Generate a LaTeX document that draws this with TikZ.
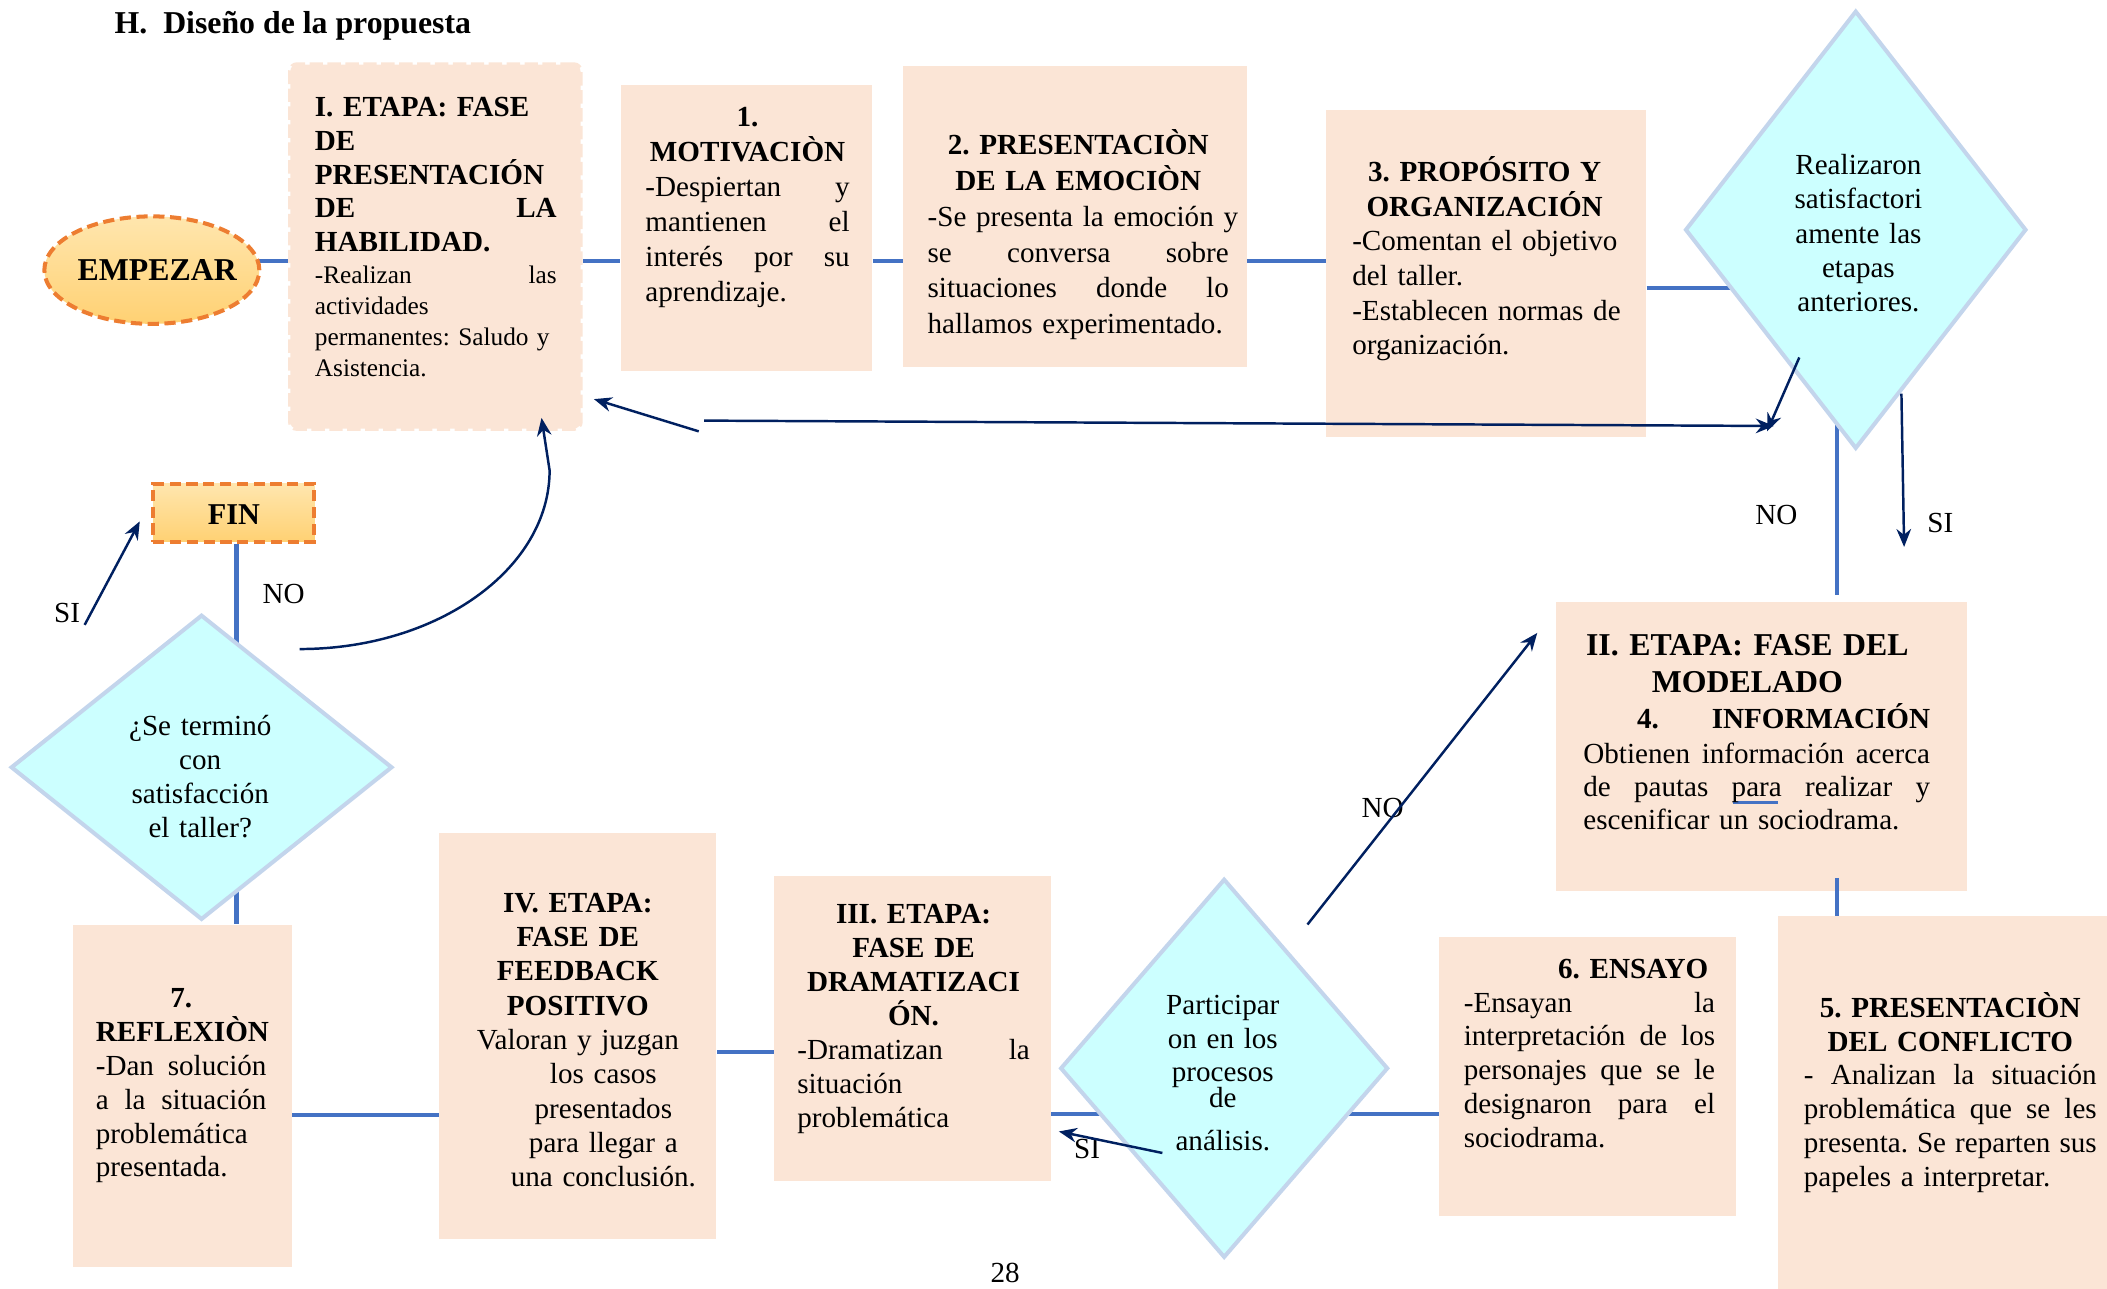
\documentclass[tikz,border=0pt]{standalone}
\usepackage{fontspec}
\setmainfont{Liberation Serif}
\usetikzlibrary{shapes.geometric,arrows.meta,fit,backgrounds,calc}
\definecolor{peach}{HTML}{FBE5D6}
\definecolor{dfill}{HTML}{CCFFFF}
\definecolor{dline}{HTML}{C3D5EC}
\definecolor{cblue}{HTML}{4472C4}
\definecolor{navy}{HTML}{002060}
\definecolor{orline}{HTML}{ED7D31}
\definecolor{ortop}{HTML}{FFE6AE}
\definecolor{orbot}{HTML}{FFD173}
\hyphenpenalty=10000
\exhyphenpenalty=10000
\tikzset{
  box/.style={fill=peach, draw=none, inner sep=0pt},
  dia/.style={diamond, fill=dfill, draw=dline, line width=1.8pt, inner sep=0pt},
  conn/.style={draw=cblue, line width=1.8pt},
  arr/.style={draw=navy, line width=1.1pt, -{Stealth[length=8pt,width=6.5pt]}},
  txt/.style={inner sep=0pt, anchor=base west, align=left},
  ctxt/.style={inner sep=0pt, anchor=base, align=center},
  lbl/.style={inner sep=0pt, font=\fontsize{13}{15}\selectfont},
  term/.style={draw=orline, dash pattern=on 5pt off 2.5pt, line width=1.8pt, top color=ortop, bottom color=orbot, inner sep=0pt},
}
\begin{document}
\begin{tikzpicture}[x=0.6pt,y=-0.6pt]
\useasboundingbox (0,0) rectangle (1568,959);
% helper coordinates
\coordinate (y194) at (0,194);
\coordinate (y214) at (0,214);
\coordinate (y783) at (0,783);
\coordinate (y829) at (0,829);
\coordinate (y830) at (0,830);
\coordinate (x1367) at (1367,0);
\coordinate (x176) at (176,0);

% title
\node[inner sep=0pt, anchor=base west, font=\fontsize{14.2}{16}\selectfont\bfseries] (title) at (85,25) {H.\hspace{0.5em}Diseño de la propuesta};

% terminals
\node[ellipse, term, minimum width=96pt, minimum height=48pt] (emp) at (113,201) {};
\node[inner sep=0pt, font=\fontsize{14.2}{16}\selectfont\bfseries] (empt) at (117,201) {EMPEZAR};
\node[term, fit={(114,360) (234,403)}] (fin) {};
\node[inner sep=0pt, font=\fontsize{13.5}{16}\selectfont\bfseries] (fint) at (174,383) {FIN};

% boxes
\node[box, draw=peach, dash pattern=on 6pt off 2pt, line width=2pt, rounded corners=3pt, fit={(216,48) (432,319)}] (b0) {};
\node[box, fit={(462,63) (649,276)}] (b1) {};
\node[box, fit={(672,49) (928,273)}] (b2) {};
\node[box, fit={(987,82) (1225,325)}] (b3) {};
\node[box, fit={(1158,448) (1464,663)}] (b4) {};
\node[box, fit={(1323,682) (1568,959)}] (b5) {};
\node[box, fit={(1071,697) (1292,905)}] (b6) {};
\node[box, fit={(576,652) (782,879)}] (b7) {};
\node[box, fit={(327,620) (533,922)}] (b8) {};
\node[box, fit={(54,688) (217,943)}] (b9) {};

% diamonds
\node[dia, minimum width=152.4pt, minimum height=195.6pt] (d1) at (1381,171) {};
\node[dia, minimum width=146.4pt, minimum height=169.2pt] (d2) at (911,795) {};
\node[dia, minimum width=170.4pt, minimum height=136.2pt] (d3) at (150,571) {};

% connectors (behind shapes)
\begin{pgfonlayer}{background}
\draw[conn] (emp.center |- y194) -- (b0.west |- y194);
\draw[conn] (b0.east |- y194) -- (b1.west |- y194);
\draw[conn] (b1.east |- y194) -- (b2.west |- y194);
\draw[conn] (b2.east |- y194) -- (b3.west |- y194);
\draw[conn] (b3.east |- y214) -- (d1.center |- y214);
\draw[conn] (d1.center -| x1367) -- ($(b4.north -| x1367)+(0,-5)$);
\draw[conn] (b6.west |- y829) -- (b7.east |- y829);
\draw[conn] (b7.west |- y783) -- (b8.east |- y783);
\draw[conn] (b8.west |- y830) -- (b9.east |- y830);
\draw[conn] (fin.south -| x176) -- (b9.north -| x176);
\end{pgfonlayer}
\draw[conn] ($(b4.south -| x1367)+(0,-10)$) -- (b5.north -| x1367);
\draw[cblue, line width=1.2pt] (1290,597) -- (1323,597);

% texts
\node[txt, text width=108pt, font=\fontsize{13}{15}\selectfont\bfseries] (t0a) at (234,87)
 {I. ETAPA: FASE\\ DE\\ PRESENTACIÓN\\ DE\hfill LA\\ HABILIDAD.};
\node[txt, text width=108pt, font=\fontsize{11.3}{13.8}\selectfont] (t0b) at (234,211)
 {-Realizan\hfill las\\ actividades\\ permanentes:~Saludo~y\\ Asistencia.};
\node[txt, text width=91.2pt, font=\fontsize{13}{15.6}\selectfont] (t1) at (480,94)
 {\hfill\textbf{1.}\hfill\null\\ \hfill\textbf{MOTIVACIÒN}\hfill\null\\ -Despiertan\hfill y\\ mantienen\hfill el\\ interés\hfill por\hfill su\\ aprendizaje.};
\node[txt, text width=134.5pt, font=\fontsize{13}{16}\selectfont] (t2) at (690,115)
 {\hfill\textbf{2.~PRESENTACIÒN}\hfill\null\\ \hfill\textbf{DE~LA~EMOCIÒN}\hfill\null\\ -Se~presenta~la~emoción~y\\ se\hfill conversa\hfill sobre\\ situaciones\hfill donde\hfill lo\\ hallamos~experimentado.};
\node[txt, text width=118.2pt, font=\fontsize{13}{15.5}\selectfont] (t3) at (1006,135)
 {\hfill\textbf{3.~PROPÓSITO~Y}\hfill\null\\ \hfill\textbf{ORGANIZACIÓN}\hfill\null\\ -Comentan~el~objetivo\\ del~taller.\\ -Establecen~normas~de\\ organización.};
\node[txt, text width=153.6pt, font=\fontsize{14.2}{16.2}\selectfont\bfseries] (t4a) at (1180,488)
 {II.~ETAPA:~FASE~DEL\\ \leavevmode\hspace*{29.4pt}MODELADO\\ \leavevmode\hspace*{22.8pt}{\fontsize{13}{16.2}\selectfont 4.\hfill INFORMACIÓN}};
\node[txt, text width=154.8pt, font=\fontsize{13}{14.7}\selectfont] (t4b) at (1178,568)
 {Obtienen\hfill información\hfill acerca\\ de\hfill pautas\hfill para\hfill realizar\hfill y\\ escenificar~un~sociodrama.};
\node[txt, text width=130.8pt, font=\fontsize{13}{15.1}\selectfont] (t5) at (1342,757)
 {\hfill\textbf{5.~PRESENTACIÒN}\hfill\null\\ \hfill\textbf{DEL~CONFLICTO}\hfill\null\\ -\hfill Analizan\hfill la\hfill situación\\ problemática\hfill que\hfill se\hfill les\\ presenta.\hfill Se\hfill reparten\hfill sus\\ papeles~a~interpretar.};
\node[txt, text width=112.2pt, font=\fontsize{13}{15.1}\selectfont] (t6) at (1089,728)
 {\hfill\textbf{6.~ENSAYO}\kern3pt\null\\ -Ensayan\hfill la\\ interpretación\hfill de\hfill los\\ personajes\hfill que\hfill se\hfill le\\ designaron\hfill para\hfill el\\ sociodrama.};
\node[txt, text width=103.8pt, font=\fontsize{13}{15.2}\selectfont] (t7) at (593,687)
 {\hfill\textbf{III.~ETAPA:}\hfill\null\\ \hfill\textbf{FASE~DE}\hfill\null\\ \hfill\textbf{DRAMATIZACI}\hfill\null\\ \hfill\textbf{ÓN.}\hfill\null\\ -Dramatizan\hfill la\\ situación\\ problemática};
\node[ctxt, text width=120pt, font=\fontsize{13}{15.3}\selectfont] (t8) at (430,679)
 {\textbf{IV. ETAPA:}\\ \textbf{FASE DE}\\ \textbf{FEEDBACK}\\ \textbf{POSITIVO}\\ Valoran y juzgan\\ \leavevmode\hspace*{22.8pt}los casos\\ \leavevmode\hspace*{22.8pt}presentados\\ \leavevmode\hspace*{22.8pt}para llegar a\\ \leavevmode\hspace*{22.8pt}una conclusión.};
\node[txt, text width=76.2pt, font=\fontsize{13}{15.1}\selectfont] (t9) at (71,750)
 {\hfill\textbf{7.}\hfill\null\\ \textbf{REFLEXIÒN}\\ -Dan\hfill solución\\ a\hfill la\hfill situación\\ problemática\\ presentada.};
\node[ctxt, text width=72pt, font=\fontsize{13}{15.3}\selectfont] (td1) at (1383,130)
 {Realizaron\\ satisfactori\\ amente las\\ etapas\\ anteriores.};
\node[ctxt, text width=72pt, font=\fontsize{13}{15}\selectfont] (td2) at (910,755)
 {Participar\\ on en los\\ procesos\\[-3.6pt] de\\[4.2pt] análisis.};
\node[ctxt, text width=90pt, font=\fontsize{13}{15.2}\selectfont] (td3) at (149,547)
 {¿Se terminó\\ con\\ satisfacción\\ el taller?};

% labels
\node[lbl] (no1) at (1322,383) {NO};
\node[lbl] (si1) at (1444,389) {SI};
\node[lbl] (no2) at (1029,601) {NO};
\node[lbl] (si2) at (809,855) {SI};
\node[lbl] (si3) at (50,456) {SI};
\node[lbl] (no3) at (211,442) {NO};
\node[lbl] (page) at (748,947) {28};

% arrows
\coordinate (a1s) at (520,321); \coordinate (a1e) at (442,297);
\coordinate (a2s) at (524,313); \coordinate (a2e) at (1320,317);
\coordinate (a3s) at (1339,266); \coordinate (a3e) at (1315,321);
\coordinate (a4s) at (1415,293); \coordinate (a4e) at (1417,407);
\coordinate (a5s) at (973,688); \coordinate (a5e) at (1144,471);
\coordinate (a6s) at (865,858); \coordinate (a6e) at (788,842);
\coordinate (a7s) at (223,483); \coordinate (a7m) at (409,350); \coordinate (a7e) at (403,311);
\coordinate (a8s) at (63,465); \coordinate (a8e) at (104,388);
\draw[arr] (a1s) -- (a1e);
\draw[arr] (a2s) -- (a2e);
\draw[arr] (a3s) -- (a3e);
\draw[arr] (a4s) -- (a4e);
\draw[arr] (a5s) -- (a5e);
\draw[arr] (a6s) -- (a6e);
\draw[arr] (a7s) .. controls (326,483) and (409,423) .. (a7m) -- (a7e);
\draw[arr] (a8s) -- (a8e);
\end{tikzpicture}
\end{document}
